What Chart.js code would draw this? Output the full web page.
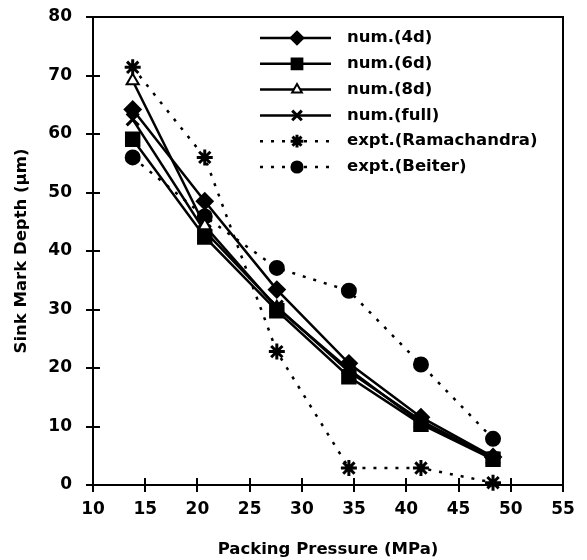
<!DOCTYPE html>
<html>
<head>
<meta charset="utf-8">
<script src="https://cdn.jsdelivr.net/npm/chart.js@4.4.0/dist/chart.umd.min.js"></script>
<style>
html,body{margin:0;padding:0;background:#fff;}
#wrap{width:587px;height:560px;position:relative;}
</style>
</head>
<body>
<div id="wrap"><canvas id="c" width="587" height="560"></canvas></div>
<script>
const pressure = [13.8, 20.7, 27.6, 34.5, 41.4, 48.3];
const num4d   = [64.2, 48.5, 33.4, 20.8, 11.6, 4.8];
const num6d   = [59.1, 42.4, 29.8, 18.5, 10.4, 4.4];
const num8d   = [69.1, 44.3, 30.3, 19.8, 10.6, 4.5];
const numFull = [62.5, 43.4, 30.5, 19.4, 11.0, 4.6];
const exptRam = [71.4, 56.0, 22.8, 2.9, 2.9, 0.4];
const exptBei = [56.0, 45.9, 37.1, 33.2, 20.6, 7.9];
const seriesNames = ['num.(4d)', 'num.(6d)', 'num.(8d)', 'num.(full)', 'expt.(Ramachandra)', 'expt.(Beiter)'];
const xTicks = [10, 15, 20, 25, 30, 35, 40, 45, 50, 55];
const yTicks = [0, 10, 20, 30, 40, 50, 60, 70, 80];

const FONT = 'DejaVu Sans';
const toPts = arr => arr.map((v, i) => ({x: pressure[i], y: v}));

const styles = [
  {pointStyle: 'rectRot', radius: 8, bg: '#000', dash: []},
  {pointStyle: 'rect', radius: 9.5, bg: '#000', dash: []},
  {pointStyle: 'triangle', radius: 7, bg: '#fff', dash: []},
  {pointStyle: 'crossRot', radius: 8.5, bg: '#000', dash: []},
  {pointStyle: 'star', radius: 8, bg: '#000', dash: [3, 8]},
  {pointStyle: 'circle', radius: 7, bg: '#000', dash: [3, 8]}
];
const allData = [num4d, num6d, num8d, numFull, exptRam, exptBei];

const datasets = allData.map((d, i) => ({
  label: seriesNames[i],
  data: toPts(d),
  borderColor: '#000',
  borderWidth: 2.5,
  borderDash: styles[i].dash,
  pointStyle: styles[i].pointStyle,
  pointRadius: styles[i].radius,
  pointBackgroundColor: styles[i].bg,
  pointBorderColor: '#000',
  pointBorderWidth: (styles[i].pointStyle === 'crossRot' || styles[i].pointStyle === 'star') ? 3 : 2,
  tension: 0,
  fill: false,
  clip: false,
  order: i < 4 ? 1 : 2
}));

const frame = {
  id: 'frame',
  afterDatasetsDraw(chart) {
    const ctx = chart.ctx;
    const a = chart.chartArea;
    const xs = chart.scales.x, ys = chart.scales.y;
    ctx.save();
    ctx.strokeStyle = '#000';
    ctx.lineWidth = 2;
    ctx.setLineDash([]);
    ctx.beginPath();
    ctx.moveTo(a.left, a.top); ctx.lineTo(a.right, a.top); ctx.lineTo(a.right, a.bottom);
    ctx.moveTo(a.left, a.top); ctx.lineTo(a.left, a.bottom); ctx.lineTo(a.right, a.bottom);
    ctx.stroke();
    for (const v of xTicks) {
      if (v === 55 || v === 10) continue;
      const px = Math.round(xs.getPixelForValue(v));
      ctx.beginPath();
      ctx.moveTo(px, a.bottom - 7); ctx.lineTo(px, a.bottom + 1);
      ctx.stroke();
    }
    for (const v of yTicks) {
      if (v === 0) continue;
      const py = Math.round(ys.getPixelForValue(v));
      ctx.beginPath();
      ctx.moveTo(a.left - 1, py); ctx.lineTo(a.left + 7, py);
      ctx.stroke();
    }
    const x0 = 260, x1 = 331, xm = 297, tx = 347, y0 = 38, dy = 25.8;
    chart.data.datasets.forEach((ds, i) => {
      const y = y0 + i * dy;
      ctx.strokeStyle = '#000';
      ctx.lineWidth = 2.5;
      ctx.setLineDash(ds.borderDash);
      ctx.beginPath();
      ctx.moveTo(x0, y); ctx.lineTo(x1, y);
      ctx.stroke();
      ctx.setLineDash([]);
      ctx.fillStyle = ds.pointBackgroundColor;
      ctx.strokeStyle = '#000';
      ctx.lineWidth = ds.pointBorderWidth;
      Chart.helpers.drawPoint(ctx, {pointStyle: ds.pointStyle, radius: ds.pointRadius * 0.8, rotation: 0, borderWidth: ds.pointBorderWidth}, xm, y);
      ctx.fillStyle = '#000';
      ctx.font = 'bold 16.5px "' + FONT + '"';
      ctx.textBaseline = 'middle';
      ctx.textAlign = 'left';
      ctx.fillText(ds.label, tx, y);
    });
    ctx.restore();
  }
};

const tickGrid = {display: true, drawOnChartArea: false, drawTicks: true, tickLength: 7, color: '#000', lineWidth: 2};

new Chart(document.getElementById('c'), {
  type: 'line',
  data: {datasets},
  options: {
    responsive: false,
    animation: false,
    layout: {padding: {top: 17, right: 24, left: 0, bottom: 0}},
    plugins: {legend: {display: false}, tooltip: {enabled: false}},
    scales: {
      x: {
        type: 'linear', min: 10, max: 55,
        afterFit: s => { s.height = 75; s.paddingLeft = 0; s.paddingRight = 0; },
        afterBuildTicks: s => { s.ticks = xTicks.map(v => ({value: v})); },
        grid: tickGrid,
        border: {display: false},
        ticks: {color: '#000', font: {family: FONT, size: 17, weight: 'bold'}, padding: 7, maxRotation: 0, autoSkip: false},
        title: {display: true, text: 'Packing Pressure (MPa)', color: '#000', font: {family: FONT, size: 16.5, weight: 'bold'}, padding: {top: 13, bottom: 0}}
      },
      y: {
        type: 'linear', min: 0, max: 80,
        afterFit: s => { s.width = 93; s.paddingTop = 0; s.paddingBottom = 0; },
        afterBuildTicks: s => { s.ticks = yTicks.map(v => ({value: v})); },
        grid: tickGrid,
        border: {display: false},
        ticks: {color: '#000', font: {family: FONT, size: 17, weight: 'bold'}, padding: 14, autoSkip: false},
        title: {display: true, text: 'Sink Mark Depth (µm)', color: '#000', font: {family: FONT, size: 16.5, weight: 'bold'}, padding: {top: 12, bottom: 0}}
      }
    }
  },
  plugins: [frame]
});
</script>
</body>
</html>
